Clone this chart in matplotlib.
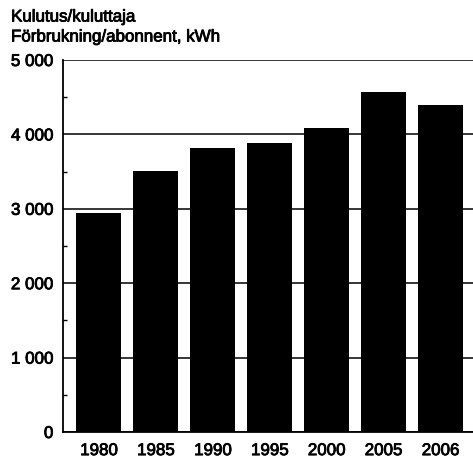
import matplotlib
matplotlib.use("Agg")
import matplotlib.pyplot as plt
import matplotlib.patheffects as pe
from matplotlib.ticker import FuncFormatter, MultipleLocator

years = ["1980", "1985", "1990", "1995", "2000", "2005", "2006"]
values = [2950, 3510, 3820, 3890, 4090, 4570, 4390]
title_lines = ["Kulutus/kuluttaja", "Förbrukning/abonnent, kWh"]

plt.rcParams['font.family'] = ['Liberation Sans', 'DejaVu Sans']
FS = 12.2
thick = [pe.withStroke(linewidth=0.6, foreground='black')]

fig = plt.figure(figsize=(4.73, 4.64), dpi=100)
ax = fig.add_axes([63/473, 31/464, 1 - 63/473, (433-61)/464])

x = list(range(len(years)))
ax.bar(x, values, width=0.79, color='black', zorder=3)

ax.set_xlim(-0.63, 6.57)
ax.set_ylim(0, 5000)
ax.yaxis.set_major_locator(MultipleLocator(1000))
ax.yaxis.set_minor_locator(MultipleLocator(500))
ax.yaxis.set_major_formatter(FuncFormatter(lambda v, p: f"{int(v):,}".replace(",", " ")))
ax.grid(axis='y', which='major', color='black', linewidth=1.1, zorder=1)
ax.set_xticks(x)
ax.set_xticklabels(years)

for s in ['top', 'right']:
    ax.spines[s].set_visible(False)
for s in ['left', 'bottom']:
    ax.spines[s].set_linewidth(1.3)

ax.tick_params(axis='y', which='major', length=0, pad=7, labelsize=FS)
ax.tick_params(axis='y', which='minor', length=3, direction='in', width=1)
ax.tick_params(axis='x', length=0, pad=8, labelsize=FS)
for lbl in ax.get_xticklabels() + ax.get_yticklabels():
    lbl.set_path_effects(thick)

fig.text(11/473, 1 - 18/464, title_lines[0], fontsize=FS, va='center', ha='left', path_effects=thick)
fig.text(11/473, 1 - 38/464, title_lines[1], fontsize=FS, va='center', ha='left', path_effects=thick)

fig.savefig("out.png", dpi=100)
